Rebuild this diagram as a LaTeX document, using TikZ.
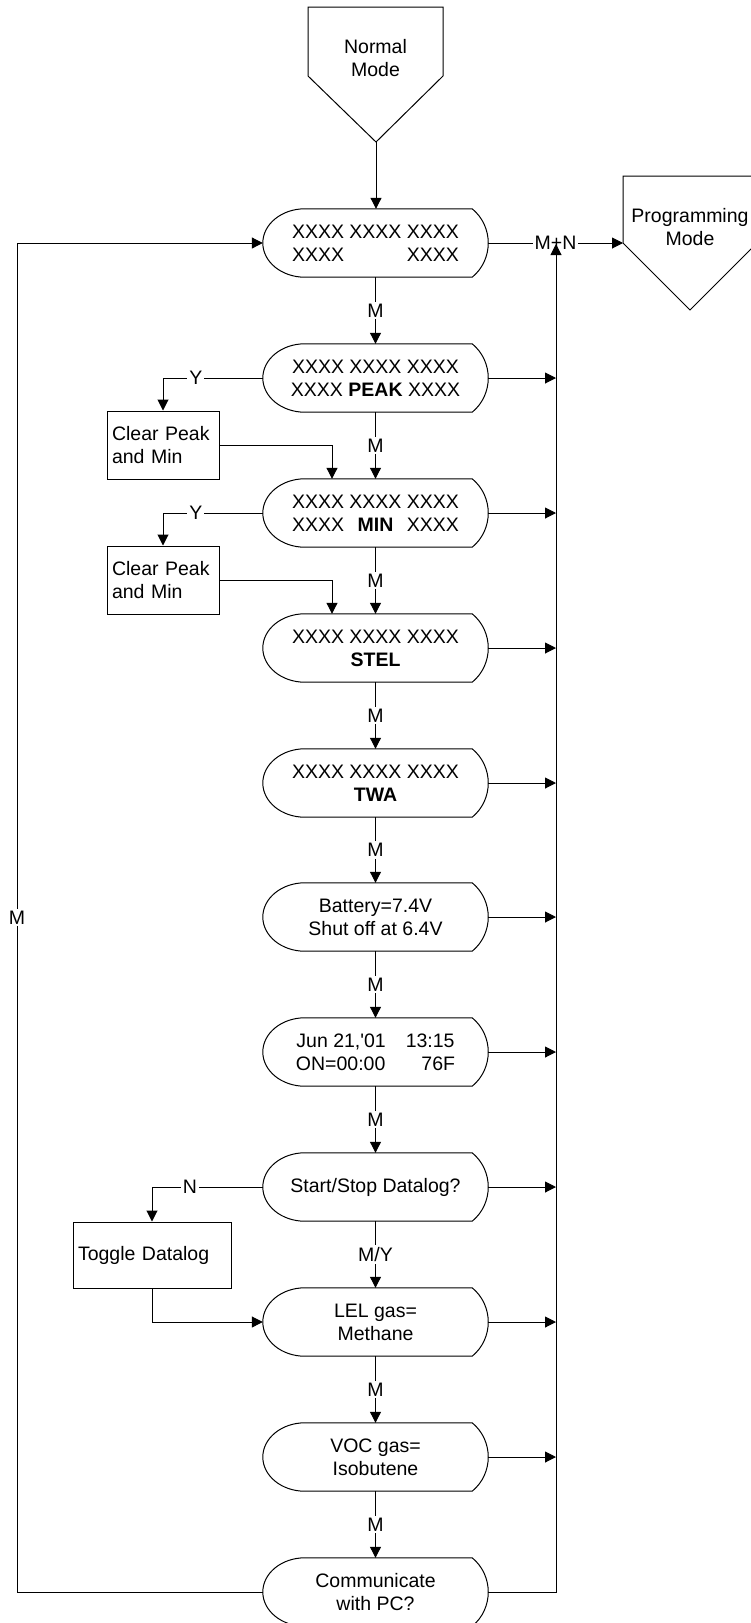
\documentclass[tikz,border=0pt]{standalone}
\usepackage{fontspec}
\setmainfont{Liberation Sans}
\usetikzlibrary{arrows.meta}

\newcommand\dispshape[1]{%
  \draw[outl] ([xshift=42pt]#1.north west) -- ([xshift=-16pt]#1.north east)
    .. controls +(21.4,17.6) and +(21.4,-17.6) .. ([xshift=-16pt]#1.south east)
    -- ([xshift=42pt]#1.south west)
    .. controls +(-23.2,0) and +(0,18.8) .. (#1.west)
    .. controls +(0,-18.8) and +(-23.2,0) .. ([xshift=42pt]#1.north west) -- cycle;}

\begin{document}
\begin{tikzpicture}[x=1pt,y=-1pt,
  font=\fontsize{19.5}{23}\selectfont,
  outl/.style={line width=1pt, black},
  conn/.style={line width=1pt, black},
  arr/.style={conn, -{Triangle[length=11pt,width=11pt]}},
  disp/.style={minimum width=225pt, minimum height=68pt, inner sep=0pt, align=center},
  actbox/.style={draw, line width=1pt, rectangle, inner sep=5pt, align=left, minimum height=68pt},
  lbl/.style={fill=white, inner sep=2pt},
]
\useasboundingbox (0,0) rectangle (750,1623);

% Normal mode (off-page connector)
\draw[outl] (308,7) -- (443,7) -- (443,76) -- (376,142) -- (308,76) -- cycle;
\node[align=center] (normal) at (375.5,58) {Normal\\Mode};
\coordinate (normaltip) at (376,142);

% Programming mode
\draw[outl] (623,176) -- (757,176) -- (757,243) -- (690,310) -- (623,243) -- cycle;
\node[align=center] (prog) at (690,227) {Programming\\Mode};
\coordinate (progin) at (623,243);

% displays
\node[disp] (d1) at (375.5,243) {XXXX XXXX XXXX\\\hbox to 167pt{XXXX\hfill XXXX}};
\node[disp] (d2) at (375.5,378) {XXXX XXXX XXXX\\XXXX \textbf{PEAK} XXXX};
\node[disp] (d3) at (375.5,513) {XXXX XXXX XXXX\\\hbox to 167pt{XXXX\hfill\textbf{MIN}\hfill XXXX}};
\node[disp] (d4) at (375.5,648) {XXXX XXXX XXXX\\\textbf{STEL}};
\node[disp] (d5) at (375.5,783) {XXXX XXXX XXXX\\\textbf{TWA}};
\node[disp] (d6) at (375.5,917) {Battery=7.4V\\Shut off at 6.4V};
\node[disp] (d7) at (375.5,1052) {Jun 21,\textquotesingle01\hspace{20pt}13:15\\ON=00:00\hspace{36pt}76F};
\node[disp] (d8) at (375.5,1187) {Start/Stop Datalog?};
\node[disp] (d9) at (375.5,1322) {LEL gas=\\Methane};
\node[disp] (d10) at (375.5,1457) {VOC gas=\\Isobutene};
\node[disp] (d11) at (375.5,1592) {Communicate\\with PC?};
\foreach \n in {d1,d2,d3,d4,d5,d6,d7,d8,d9,d10,d11} {\dispshape{\n}}

% side boxes
\node[actbox, text width=102pt] (b1) at (163,445) {Clear Peak\\and Min};
\node[actbox, text width=102pt] (b2) at (163,580) {Clear Peak\\and Min};
\node[actbox, text width=148pt, minimum height=66pt] (b3) at (152,1255) {Toggle Datalog};

% bus coordinates
\coordinate (busbot) at (556,1592);
\coordinate (bustop) at (556,244);
\coordinate (lbot) at (17,1592);
\coordinate (ltop) at (17,243);

% main flow
\draw[arr] (normaltip) -- (normaltip |- d1.north);
\draw[arr] (d1) -- node[lbl]{M} (d2);
\draw[arr] (d2) -- node[lbl]{M} (d3);
\draw[arr] (d3) -- node[lbl]{M} (d4);
\draw[arr] (d4) -- node[lbl]{M} (d5);
\draw[arr] (d5) -- node[lbl]{M} (d6);
\draw[arr] (d6) -- node[lbl]{M} (d7);
\draw[arr] (d7) -- node[lbl]{M} (d8);
\draw[arr] (d8) -- node[lbl]{M/Y} (d9);
\draw[arr] (d9) -- node[lbl]{M} (d10);
\draw[arr] (d10) -- node[lbl]{M} (d11);

% side branches
\draw[arr] (d2.west) -| node[lbl,pos=0.335]{Y} (b1.north);
\draw[arr] (b1.east) -| ([xshift=-43.5pt]d3.north);
\draw[arr] (d3.west) -| node[lbl,pos=0.335]{Y} (b2.north);
\draw[arr] (b2.east) -| ([xshift=-43.5pt]d4.north);
\draw[arr] (d8.west) -| node[lbl,pos=0.329]{N} (b3.north);
\draw[arr] (b3.south) |- (d9.west);

% to programming mode
\draw[arr] (d1.east) -- node[lbl]{M+N} (progin);

% right arrows to bus
\foreach \n in {d2,d3,d4,d5,d6,d7,d8,d9,d10} {\draw[arr] (\n.east) -- (\n.east -| busbot);}
\draw[arr] (d11.east) -- (busbot) -- (bustop);

% left loop back
\draw[arr] (d11.west) -- (lbot) -- node[lbl]{M} (ltop) -- (d1.west);
\end{tikzpicture}
\end{document}
